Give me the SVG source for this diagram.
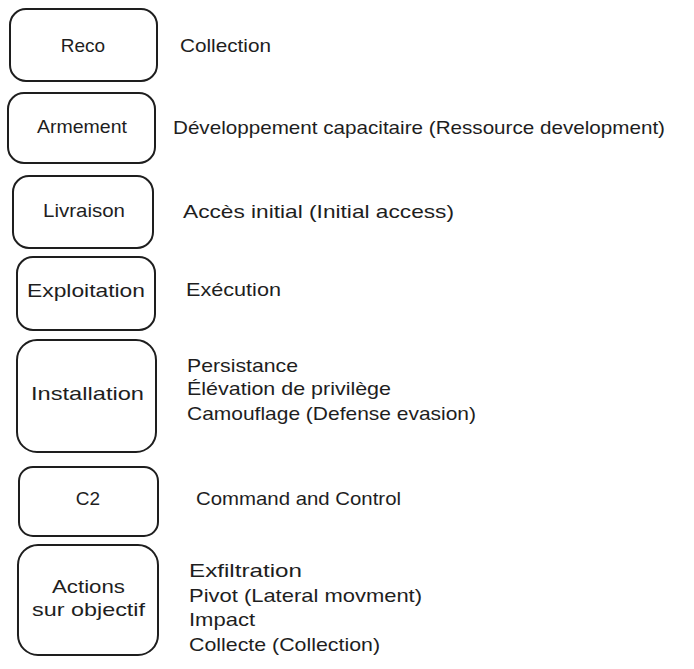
<svg xmlns="http://www.w3.org/2000/svg" width="694" height="669" viewBox="0 0 694 669">
<style>
.box{fill:none;stroke:#1e1e1e;stroke-width:2;stroke-linejoin:round}
.lbl{font-family:"Liberation Sans","DejaVu Sans",sans-serif;font-size:19px;fill:#1e1e1e}
.c{text-anchor:middle}
</style>
<rect width="694" height="669" fill="#ffffff"/>
<g id="connectors"></g>
<g id="reco">
<rect class="box" x="10" y="9" width="147" height="72" rx="16"/>
<text class="lbl c" x="83" y="52">Reco</text>
</g>
<g id="armement">
<rect class="box" x="8" y="93" width="147" height="70" rx="16"/>
<text class="lbl" x="37" y="133" textLength="90" lengthAdjust="spacingAndGlyphs">Armement</text>
</g>
<g id="livraison">
<rect class="box" x="13" y="176" width="140" height="72" rx="16"/>
<text class="lbl" x="43" y="217" textLength="82" lengthAdjust="spacingAndGlyphs">Livraison</text>
</g>
<g id="exploitation">
<rect class="box" x="17" y="257" width="138" height="73" rx="16"/>
<text class="lbl" x="27" y="297" textLength="118" lengthAdjust="spacingAndGlyphs">Exploitation</text>
</g>
<g id="installation">
<rect class="box" x="17" y="340" width="139" height="112" rx="20"/>
<text class="lbl" x="31" y="400" textLength="113" lengthAdjust="spacingAndGlyphs">Installation</text>
</g>
<g id="c2">
<rect class="box" x="19" y="467" width="139" height="69" rx="14"/>
<text class="lbl c" x="88" y="505">C2</text>
</g>
<g id="actions">
<rect class="box" x="18" y="545" width="140" height="110" rx="20"/>
<text class="lbl" x="52" y="593" textLength="73" lengthAdjust="spacingAndGlyphs">Actions</text>
<text class="lbl" x="32" y="616" textLength="113" lengthAdjust="spacingAndGlyphs">sur objectif</text>
</g>
<g id="desc-reco"><text class="lbl" x="180" y="52" textLength="91" lengthAdjust="spacingAndGlyphs">Collection</text></g>
<g id="desc-armement"><text class="lbl" x="173" y="134" textLength="492" lengthAdjust="spacingAndGlyphs">Développement capacitaire (Ressource development)</text></g>
<g id="desc-livraison"><text class="lbl" x="183" y="218" textLength="271" lengthAdjust="spacingAndGlyphs">Accès initial (Initial access)</text></g>
<g id="desc-exploitation"><text class="lbl" x="186" y="296" textLength="95" lengthAdjust="spacingAndGlyphs">Exécution</text></g>
<g id="desc-installation">
<text class="lbl" x="187" y="372" textLength="111" lengthAdjust="spacingAndGlyphs">Persistance</text>
<text class="lbl" x="187" y="395" textLength="204" lengthAdjust="spacingAndGlyphs">Élévation de privilège</text>
<text class="lbl" x="187" y="420" textLength="289" lengthAdjust="spacingAndGlyphs">Camouflage (Defense evasion)</text>
</g>
<g id="desc-c2"><text class="lbl" x="196" y="505" textLength="205" lengthAdjust="spacingAndGlyphs">Command and Control</text></g>
<g id="desc-actions">
<text class="lbl" x="189" y="577" textLength="113" lengthAdjust="spacingAndGlyphs">Exfiltration</text>
<text class="lbl" x="189" y="602" textLength="233" lengthAdjust="spacingAndGlyphs">Pivot (Lateral movment)</text>
<text class="lbl" x="189" y="626" textLength="66" lengthAdjust="spacingAndGlyphs">Impact</text>
<text class="lbl" x="189" y="651" textLength="191" lengthAdjust="spacingAndGlyphs">Collecte (Collection)</text>
</g>
</svg>
